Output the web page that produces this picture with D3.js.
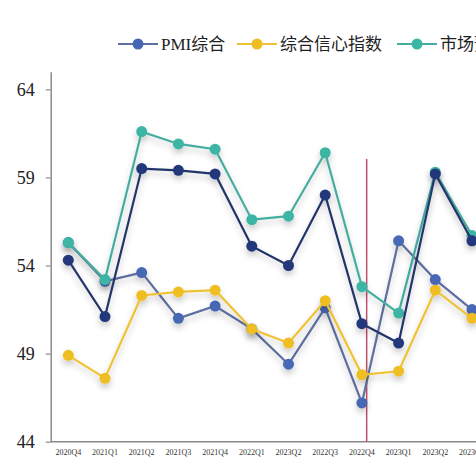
<!DOCTYPE html>
<html>
<head>
<meta charset="utf-8">
<script src="https://cdn.jsdelivr.net/npm/d3@7"></script>
<style>
  body { margin: 0; background: #fff; }
  svg { display: block; }
</style>
</head>
<body>
<script>
const quarters = ['2020Q4', '2021Q1', '2021Q2', '2021Q3', '2021Q4', '2022Q1',
  '2023Q2', '2022Q3', '2022Q4', '2023Q1', '2023Q2', '2023Q3'];

const pmiValues    = [55.3, 53.1, 53.6, 51.0, 51.7, 50.4, 48.4, 51.6, 46.2, 55.4, 53.2, 51.5];
const confidence   = [48.9, 47.6, 52.3, 52.5, 52.6, 50.4, 49.6, 52.0, 47.8, 48.0, 52.6, 51.0];
const marketValues = [55.3, 53.2, 61.6, 60.9, 60.6, 56.6, 56.8, 60.4, 52.8, 51.3, 59.3, 55.7];
const fourthValues = [54.3, 51.1, 59.5, 59.4, 59.2, 55.1, 54.0, 58.0, 50.7, 49.6, 59.2, 55.4];

const yTicks = [44, 49, 54, 59, 64];

const series = [
  { name: 'PMI综合', values: pmiValues, line: '#5f6f9f', dot: '#4767b5' },
  { name: '综合信心指数', values: confidence, line: '#efc235', dot: '#efbe22' },
  { name: '市场预期指数', values: marketValues, line: '#45ada0', dot: '#3cb5a5' },
  { name: '市场综合指数', values: fourthValues, line: '#24366a', dot: '#22387a' }
];

const W = 476, H = 476;
const svg = d3.select('body').append('svg')
  .attr('width', W)
  .attr('height', H);

const defs = svg.append('defs');
const shadow = defs.append('filter')
  .attr('id', 'shadow')
  .attr('x', '-50%').attr('y', '-50%')
  .attr('width', '200%').attr('height', '200%');
shadow.append('feDropShadow')
  .attr('dx', 0).attr('dy', 4)
  .attr('stdDeviation', 3)
  .attr('flood-color', '#000')
  .attr('flood-opacity', 0.22);

const step = 36.7;
const x = d3.scalePoint()
  .domain(d3.range(quarters.length))
  .range([68.3, 68.3 + step * (quarters.length - 1)]);

const y = d3.scaleLinear()
  .domain([44, 65])
  .range([441.7, 71.7]);

// y axis
const yAxis = svg.append('g')
  .attr('transform', 'translate(50.7,0)')
  .call(d3.axisLeft(y).tickValues(yTicks).tickSize(5).tickPadding(11).tickSizeOuter(0));
yAxis.select('.domain').attr('stroke', '#8a8a8a').attr('stroke-width', 1.5);
yAxis.selectAll('.tick line').attr('stroke', '#8a8a8a').attr('stroke-width', 1.2);
yAxis.selectAll('.tick text')
  .attr('fill', '#222')
  .style('font-family', '"Liberation Serif", "Times New Roman", serif')
  .style('font-size', '18px');

// x axis
svg.append('line')
  .attr('x1', 50.7).attr('x2', W)
  .attr('y1', y(44)).attr('y2', y(44))
  .attr('stroke', '#8a8a8a')
  .attr('stroke-width', 1.5);

svg.append('g')
  .selectAll('text')
  .data(quarters)
  .enter()
  .append('text')
    .attr('x', (d, i) => x(i))
    .attr('y', y(44) + 13)
    .attr('text-anchor', 'middle')
    .attr('fill', '#333')
    .style('font-family', '"Liberation Serif", "Times New Roman", serif')
    .style('font-size', '8px')
    .text(d => d);

// marker line at 2022Q4
const redX = x(8) + 0.13 * step;
svg.append('line')
  .attr('x1', redX).attr('x2', redX)
  .attr('y1', 159).attr('y2', y(44))
  .attr('stroke', '#c0506a')
  .attr('stroke-width', 1.5);

const line = d3.line()
  .x((d, i) => x(i))
  .y(d => y(d));

series.forEach(s => {
  const g = svg.append('g').attr('filter', 'url(#shadow)');
  g.append('path')
    .datum(s.values)
    .attr('d', line)
    .attr('fill', 'none')
    .attr('stroke', s.line)
    .attr('stroke-width', 2.2);
  g.selectAll('circle')
    .data(s.values)
    .enter()
    .append('circle')
      .attr('cx', (d, i) => x(i))
      .attr('cy', d => y(d))
      .attr('r', 5.5)
      .attr('fill', s.dot);
});

// legend
const legendX = [118, 237, 397, 560];
const legend = svg.append('g');
series.forEach((s, i) => {
  const g = legend.append('g').attr('transform', `translate(${legendX[i]},44)`);
  g.append('line')
    .attr('x1', 0).attr('x2', 40)
    .attr('stroke', s.line)
    .attr('stroke-width', 2.2);
  g.append('circle')
    .attr('cx', 20)
    .attr('r', 5.5)
    .attr('fill', s.dot);
  g.append('text')
    .attr('x', 43)
    .attr('y', 6)
    .attr('fill', '#222')
    .style('font-family', '"Liberation Serif", "Noto Sans CJK SC", serif')
    .style('font-size', '17px')
    .text(s.name);
});
</script>
</body>
</html>
